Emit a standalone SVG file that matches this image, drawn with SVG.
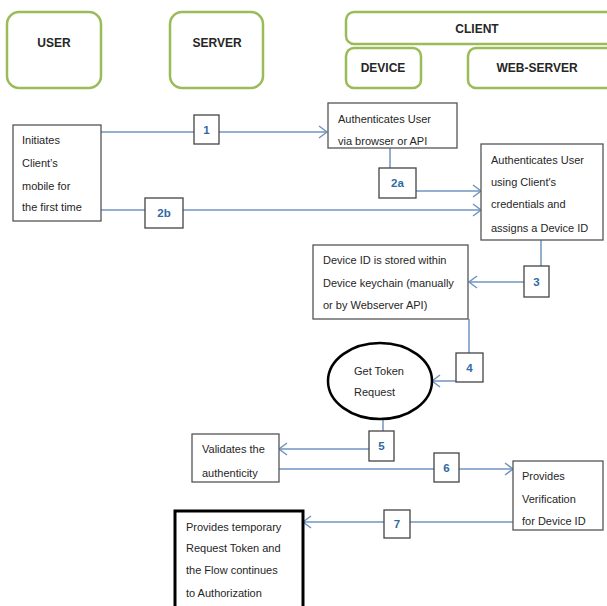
<svg xmlns="http://www.w3.org/2000/svg" width="607" height="606" viewBox="0 0 607 606">
<style>
.hdr{fill:#fff;stroke:#9bbb59;stroke-width:2.5}
.ht{font-family:"Liberation Sans",Arial,sans-serif;font-size:12px;font-weight:bold;fill:#262626;text-anchor:middle}
.box{fill:#fff;stroke:#555;stroke-width:1.3}
.t{font-family:"Liberation Sans",Arial,sans-serif;font-size:11px;fill:#262626}
.lb{fill:#fff;stroke:#444;stroke-width:1.3}
.lt{font-family:"Liberation Sans",Arial,sans-serif;font-size:11.5px;font-weight:bold;fill:#2f6aa3;text-anchor:middle}
.c{fill:none;stroke:#7094c0;stroke-width:1.5}
</style>
<defs>
<marker id="ah" markerUnits="userSpaceOnUse" markerWidth="12" markerHeight="14" refX="9" refY="7" orient="auto">
<path d="M1,1 L9,7 L1,13" fill="none" stroke="#7094c0" stroke-width="1.5"/>
</marker>
</defs>
<rect width="607" height="606" fill="#fff"/>
<g id="user"><rect class="hdr" x="7" y="12" width="94" height="76" rx="12"/><text class="ht" x="54" y="47">USER</text></g>
<g id="server"><rect class="hdr" x="170" y="12" width="93" height="76" rx="12"/><text class="ht" x="217" y="47">SERVER</text></g>
<g id="client"><rect class="hdr" x="346" y="12" width="270" height="32" rx="8"/><text class="ht" x="477" y="33">CLIENT</text></g>
<g id="device"><rect class="hdr" x="346" y="48" width="75" height="40" rx="8"/><text class="ht" x="383" y="72">DEVICE</text></g>
<g id="webserver"><rect class="hdr" x="468" y="48" width="148" height="40" rx="8"/><text class="ht" x="537" y="72">WEB-SERVER</text></g>

<g id="connectors">
<path class="c" d="M101,132 H327" marker-end="url(#ah)"/>
<path class="c" d="M390,148 V168"/>
<path class="c" d="M416,191 H481" marker-end="url(#ah)"/>
<path class="c" d="M101,210 H481" marker-end="url(#ah)"/>
<path class="c" d="M541,240 V266"/>
<path class="c" d="M524,282 H469" marker-end="url(#ah)"/>
<path class="c" d="M469,319 V353"/>
<path class="c" d="M456,381 H432" marker-end="url(#ah)"/>
<path class="c" d="M383,419 V431"/>
<path class="c" d="M369,449 H279" marker-end="url(#ah)"/>
<path class="c" d="M279,469 H513" marker-end="url(#ah)"/>
<path class="c" d="M513,522 H303" marker-end="url(#ah)"/>
<g id="l1"><rect class="lb" x="194" y="115" width="25" height="29"/><text class="lt" x="206.5" y="134">1</text></g>
<g id="l2a"><rect class="lb" x="379" y="168" width="37" height="30"/><text class="lt" x="397.5" y="187">2a</text></g>
<g id="l2b"><rect class="lb" x="145" y="198" width="38" height="30"/><text class="lt" x="164" y="217">2b</text></g>
<g id="l3"><rect class="lb" x="524" y="266" width="25" height="31"/><text class="lt" x="536.5" y="286">3</text></g>
<g id="l4"><rect class="lb" x="456" y="353" width="27" height="29"/><text class="lt" x="469.5" y="372">4</text></g>
<g id="l5"><rect class="lb" x="369" y="431" width="25" height="30"/><text class="lt" x="381.5" y="450">5</text></g>
<g id="l6"><rect class="lb" x="434" y="453" width="25" height="29"/><text class="lt" x="446.5" y="472">6</text></g>
<g id="l7"><rect class="lb" x="384" y="510" width="26" height="28"/><text class="lt" x="397" y="528">7</text></g>
</g>

<g id="initiates"><rect class="box" x="13" y="125" width="88" height="96"/>
<text class="t" x="22" y="144">Initiates</text><text class="t" x="22" y="167">Client’s</text><text class="t" x="22" y="190">mobile for</text><text class="t" x="22" y="211">the first time</text></g>
<g id="auth1"><rect class="box" x="328" y="103" width="129" height="45"/>
<text class="t" x="338" y="123">Authenticates User</text><text class="t" x="338" y="145">via browser or API</text></g>
<g id="auth2"><rect class="box" x="481" y="144" width="122" height="96"/>
<text class="t" x="491" y="164">Authenticates User</text><text class="t" x="491" y="186">using Client's</text><text class="t" x="491" y="208">credentials and</text><text class="t" x="491" y="232">assigns a Device ID</text></g>
<g id="deviceid"><rect class="box" x="313" y="245" width="155" height="74"/>
<text class="t" x="323" y="264">Device ID is stored within</text><text class="t" x="323" y="287">Device keychain (manually</text><text class="t" x="323" y="309">or by Webserver API)</text></g>
<g id="gettoken"><ellipse cx="380" cy="381" rx="52" ry="38" fill="#fff" stroke="#000" stroke-width="2.5"/>
<text class="t" x="354" y="375">Get Token</text><text class="t" x="354" y="396">Request</text></g>
<g id="validates"><rect class="box" x="192" y="434" width="87" height="48"/>
<text class="t" x="202" y="453">Validates the</text><text class="t" x="202" y="477">authenticity</text></g>
<g id="verification"><rect class="box" x="513" y="461" width="90" height="69"/>
<text class="t" x="522" y="480">Provides</text><text class="t" x="522" y="503">Verification</text><text class="t" x="522" y="525">for Device ID</text></g>
<g id="temptoken"><rect x="175" y="511" width="128" height="104" fill="#fff" stroke="#000" stroke-width="3"/>
<text class="t" x="186" y="531">Provides temporary</text><text class="t" x="186" y="552">Request Token and</text><text class="t" x="186" y="574">the Flow continues</text><text class="t" x="186" y="597">to Authorization</text></g>
</svg>
